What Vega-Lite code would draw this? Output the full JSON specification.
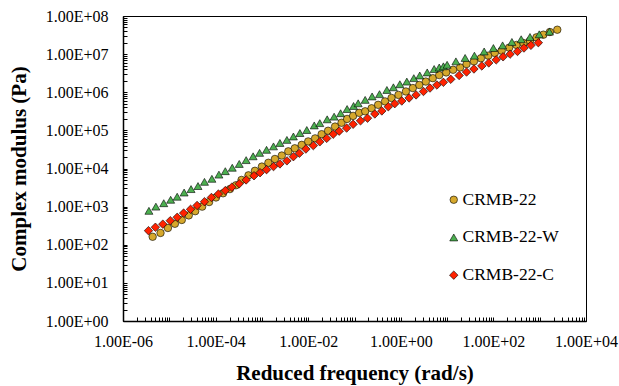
{
  "$schema": "https://vega.github.io/schema/vega-lite/v6.json",
  "autosize": {"type": "none"},
  "padding": {"left": 123, "top": 16, "right": 33, "bottom": 65},
  "width": 463,
  "height": 305,
  "background": "white",
  "config": {
    "font": "Liberation Serif",
    "view": {"stroke": "black", "strokeWidth": 1},
    "axis": {
      "labelFont": "Liberation Serif",
      "titleFont": "Liberation Serif",
      "labelColor": "black",
      "titleColor": "black",
      "domainColor": "black",
      "domainWidth": 1.5,
      "tickColor": "black",
      "tickWidth": 1,
      "tickSize": -4,
      "grid": false,
      "labelFontSize": 16,
      "titleFontSize": 21,
      "titleFontWeight": "bold",
      "labelOverlap": false,
      "labelFlush": false
    }
  },
  "data": {
    "values": [
      {"s": "CRMB-22", "f": 4.37e-6, "g": 162},
      {"s": "CRMB-22", "f": 6.46e-6, "g": 204},
      {"s": "CRMB-22", "f": 9.33e-6, "g": 275},
      {"s": "CRMB-22", "f": 1.32e-5, "g": 355},
      {"s": "CRMB-22", "f": 1.86e-5, "g": 447},
      {"s": "CRMB-22", "f": 2.63e-5, "g": 589},
      {"s": "CRMB-22", "f": 3.63e-5, "g": 759},
      {"s": "CRMB-22", "f": 5.13e-5, "g": 1000},
      {"s": "CRMB-22", "f": 7.24e-5, "g": 1318},
      {"s": "CRMB-22", "f": 1.02e-4, "g": 1738},
      {"s": "CRMB-22", "f": 1.45e-4, "g": 2239},
      {"s": "CRMB-22", "f": 2.04e-4, "g": 2884},
      {"s": "CRMB-22", "f": 2.75e-4, "g": 3631},
      {"s": "CRMB-22", "f": 3.63e-4, "g": 5012},
      {"s": "CRMB-22", "f": 5.13e-4, "g": 6607},
      {"s": "CRMB-22", "f": 7.08e-4, "g": 8710},
      {"s": "CRMB-22", "f": 1.0e-3, "g": 11220},
      {"s": "CRMB-22", "f": 1.38e-3, "g": 14130},
      {"s": "CRMB-22", "f": 1.91e-3, "g": 17780},
      {"s": "CRMB-22", "f": 2.69e-3, "g": 21880},
      {"s": "CRMB-22", "f": 3.72e-3, "g": 28180},
      {"s": "CRMB-22", "f": 5.13e-3, "g": 33880},
      {"s": "CRMB-22", "f": 7.24e-3, "g": 41690},
      {"s": "CRMB-22", "f": 1.0e-2, "g": 51290},
      {"s": "CRMB-22", "f": 1.41e-2, "g": 61660},
      {"s": "CRMB-22", "f": 1.95e-2, "g": 79430},
      {"s": "CRMB-22", "f": 2.69e-2, "g": 97720},
      {"s": "CRMB-22", "f": 3.8e-2, "g": 125900},
      {"s": "CRMB-22", "f": 5.25e-2, "g": 158500},
      {"s": "CRMB-22", "f": 6.92e-2, "g": 199500},
      {"s": "CRMB-22", "f": 9.33e-2, "g": 239900},
      {"s": "CRMB-22", "f": 0.126, "g": 288400},
      {"s": "CRMB-22", "f": 0.17, "g": 316200},
      {"s": "CRMB-22", "f": 0.234, "g": 380200},
      {"s": "CRMB-22", "f": 0.324, "g": 467700},
      {"s": "CRMB-22", "f": 0.457, "g": 575400},
      {"s": "CRMB-22", "f": 0.631, "g": 707900},
      {"s": "CRMB-22", "f": 0.891, "g": 851100},
      {"s": "CRMB-22", "f": 1.29, "g": 1047000},
      {"s": "CRMB-22", "f": 1.82, "g": 1288000},
      {"s": "CRMB-22", "f": 2.51, "g": 1549000},
      {"s": "CRMB-22", "f": 3.47, "g": 1905000},
      {"s": "CRMB-22", "f": 4.9, "g": 2344000},
      {"s": "CRMB-22", "f": 6.76, "g": 2818000},
      {"s": "CRMB-22", "f": 9.55, "g": 3311000},
      {"s": "CRMB-22", "f": 13.5, "g": 3890000},
      {"s": "CRMB-22", "f": 19.1, "g": 4467000},
      {"s": "CRMB-22", "f": 26.3, "g": 5495000},
      {"s": "CRMB-22", "f": 38, "g": 6457000},
      {"s": "CRMB-22", "f": 53.7, "g": 7762000},
      {"s": "CRMB-22", "f": 77.6, "g": 9120000},
      {"s": "CRMB-22", "f": 107, "g": 10720000},
      {"s": "CRMB-22", "f": 151, "g": 12300000},
      {"s": "CRMB-22", "f": 219, "g": 14790000},
      {"s": "CRMB-22", "f": 316, "g": 17380000},
      {"s": "CRMB-22", "f": 447, "g": 19500000},
      {"s": "CRMB-22", "f": 617, "g": 22390000},
      {"s": "CRMB-22", "f": 851, "g": 27540000},
      {"s": "CRMB-22", "f": 1202, "g": 32360000},
      {"s": "CRMB-22", "f": 1660, "g": 38020000},
      {"s": "CRMB-22", "f": 2399, "g": 43650000},

      {"s": "CRMB-22-W", "f": 3.63e-6, "g": 776},
      {"s": "CRMB-22-W", "f": 5.13e-6, "g": 1000},
      {"s": "CRMB-22-W", "f": 7.59e-6, "g": 1230},
      {"s": "CRMB-22-W", "f": 1.07e-5, "g": 1514},
      {"s": "CRMB-22-W", "f": 1.48e-5, "g": 1820},
      {"s": "CRMB-22-W", "f": 2.09e-5, "g": 2344},
      {"s": "CRMB-22-W", "f": 2.95e-5, "g": 2884},
      {"s": "CRMB-22-W", "f": 4.17e-5, "g": 3467},
      {"s": "CRMB-22-W", "f": 5.75e-5, "g": 4467},
      {"s": "CRMB-22-W", "f": 8.32e-5, "g": 5370},
      {"s": "CRMB-22-W", "f": 1.18e-4, "g": 6918},
      {"s": "CRMB-22-W", "f": 1.62e-4, "g": 8511},
      {"s": "CRMB-22-W", "f": 2.29e-4, "g": 10470},
      {"s": "CRMB-22-W", "f": 3.24e-4, "g": 13180},
      {"s": "CRMB-22-W", "f": 4.57e-4, "g": 16600},
      {"s": "CRMB-22-W", "f": 6.46e-4, "g": 20890},
      {"s": "CRMB-22-W", "f": 8.91e-4, "g": 25700},
      {"s": "CRMB-22-W", "f": 1.26e-3, "g": 30900},
      {"s": "CRMB-22-W", "f": 1.78e-3, "g": 38020},
      {"s": "CRMB-22-W", "f": 2.45e-3, "g": 46770},
      {"s": "CRMB-22-W", "f": 3.47e-3, "g": 56230},
      {"s": "CRMB-22-W", "f": 4.79e-3, "g": 69180},
      {"s": "CRMB-22-W", "f": 6.61e-3, "g": 85110},
      {"s": "CRMB-22-W", "f": 9.33e-3, "g": 102300},
      {"s": "CRMB-22-W", "f": 1.35e-2, "g": 134900},
      {"s": "CRMB-22-W", "f": 1.78e-2, "g": 154900},
      {"s": "CRMB-22-W", "f": 2.57e-2, "g": 195000},
      {"s": "CRMB-22-W", "f": 3.63e-2, "g": 229100},
      {"s": "CRMB-22-W", "f": 5.01e-2, "g": 281800},
      {"s": "CRMB-22-W", "f": 6.92e-2, "g": 363100},
      {"s": "CRMB-22-W", "f": 9.55e-2, "g": 436500},
      {"s": "CRMB-22-W", "f": 0.12, "g": 512900},
      {"s": "CRMB-22-W", "f": 0.17, "g": 631000},
      {"s": "CRMB-22-W", "f": 0.24, "g": 776200},
      {"s": "CRMB-22-W", "f": 0.347, "g": 891300},
      {"s": "CRMB-22-W", "f": 0.501, "g": 1148000},
      {"s": "CRMB-22-W", "f": 0.692, "g": 1349000},
      {"s": "CRMB-22-W", "f": 0.955, "g": 1622000},
      {"s": "CRMB-22-W", "f": 1.35, "g": 1905000},
      {"s": "CRMB-22-W", "f": 1.91, "g": 2344000},
      {"s": "CRMB-22-W", "f": 2.57, "g": 2754000},
      {"s": "CRMB-22-W", "f": 3.72, "g": 3311000},
      {"s": "CRMB-22-W", "f": 5.25, "g": 4074000},
      {"s": "CRMB-22-W", "f": 6.76, "g": 4467000},
      {"s": "CRMB-22-W", "f": 8.32, "g": 4786000},
      {"s": "CRMB-22-W", "f": 10, "g": 5248000},
      {"s": "CRMB-22-W", "f": 15.5, "g": 6457000},
      {"s": "CRMB-22-W", "f": 24.5, "g": 7943000},
      {"s": "CRMB-22-W", "f": 38.9, "g": 9120000},
      {"s": "CRMB-22-W", "f": 63.1, "g": 11750000},
      {"s": "CRMB-22-W", "f": 100, "g": 14450000},
      {"s": "CRMB-22-W", "f": 158, "g": 16980000},
      {"s": "CRMB-22-W", "f": 251, "g": 20890000},
      {"s": "CRMB-22-W", "f": 398, "g": 24550000},
      {"s": "CRMB-22-W", "f": 617, "g": 28180000},
      {"s": "CRMB-22-W", "f": 977, "g": 33110000},
      {"s": "CRMB-22-W", "f": 1622, "g": 38900000},

      {"s": "CRMB-22-C", "f": 3.55e-6, "g": 234},
      {"s": "CRMB-22-C", "f": 5.01e-6, "g": 288},
      {"s": "CRMB-22-C", "f": 7.24e-6, "g": 347},
      {"s": "CRMB-22-C", "f": 1.05e-5, "g": 427},
      {"s": "CRMB-22-C", "f": 1.48e-5, "g": 525},
      {"s": "CRMB-22-C", "f": 2.04e-5, "g": 676},
      {"s": "CRMB-22-C", "f": 2.88e-5, "g": 851},
      {"s": "CRMB-22-C", "f": 3.98e-5, "g": 1072},
      {"s": "CRMB-22-C", "f": 5.75e-5, "g": 1349},
      {"s": "CRMB-22-C", "f": 8.13e-5, "g": 1738},
      {"s": "CRMB-22-C", "f": 1.15e-4, "g": 2138},
      {"s": "CRMB-22-C", "f": 1.62e-4, "g": 2630},
      {"s": "CRMB-22-C", "f": 2.24e-4, "g": 3236},
      {"s": "CRMB-22-C", "f": 3.24e-4, "g": 3981},
      {"s": "CRMB-22-C", "f": 4.57e-4, "g": 5012},
      {"s": "CRMB-22-C", "f": 6.76e-4, "g": 6457},
      {"s": "CRMB-22-C", "f": 9.12e-4, "g": 7762},
      {"s": "CRMB-22-C", "f": 1.26e-3, "g": 9333},
      {"s": "CRMB-22-C", "f": 1.78e-3, "g": 11220},
      {"s": "CRMB-22-C", "f": 2.45e-3, "g": 13180},
      {"s": "CRMB-22-C", "f": 3.47e-3, "g": 15850},
      {"s": "CRMB-22-C", "f": 4.79e-3, "g": 20420},
      {"s": "CRMB-22-C", "f": 6.46e-3, "g": 25120},
      {"s": "CRMB-22-C", "f": 8.91e-3, "g": 32360},
      {"s": "CRMB-22-C", "f": 1.29e-2, "g": 39810},
      {"s": "CRMB-22-C", "f": 1.78e-2, "g": 50120},
      {"s": "CRMB-22-C", "f": 2.51e-2, "g": 61660},
      {"s": "CRMB-22-C", "f": 3.47e-2, "g": 79430},
      {"s": "CRMB-22-C", "f": 4.68e-2, "g": 95500},
      {"s": "CRMB-22-C", "f": 6.76e-2, "g": 114800},
      {"s": "CRMB-22-C", "f": 9.33e-2, "g": 144500},
      {"s": "CRMB-22-C", "f": 0.135, "g": 177800},
      {"s": "CRMB-22-C", "f": 0.191, "g": 208900},
      {"s": "CRMB-22-C", "f": 0.275, "g": 269200},
      {"s": "CRMB-22-C", "f": 0.389, "g": 323600},
      {"s": "CRMB-22-C", "f": 0.537, "g": 416900},
      {"s": "CRMB-22-C", "f": 0.741, "g": 501200},
      {"s": "CRMB-22-C", "f": 1.05, "g": 588800},
      {"s": "CRMB-22-C", "f": 1.51, "g": 707900},
      {"s": "CRMB-22-C", "f": 2.14, "g": 851100},
      {"s": "CRMB-22-C", "f": 3.09, "g": 1047000},
      {"s": "CRMB-22-C", "f": 4.27, "g": 1288000},
      {"s": "CRMB-22-C", "f": 6.03, "g": 1549000},
      {"s": "CRMB-22-C", "f": 8.32, "g": 1820000},
      {"s": "CRMB-22-C", "f": 12.0, "g": 2188000},
      {"s": "CRMB-22-C", "f": 18.2, "g": 2754000},
      {"s": "CRMB-22-C", "f": 26.3, "g": 3388000},
      {"s": "CRMB-22-C", "f": 38.0, "g": 4074000},
      {"s": "CRMB-22-C", "f": 56.2, "g": 4898000},
      {"s": "CRMB-22-C", "f": 79.4, "g": 5888000},
      {"s": "CRMB-22-C", "f": 115, "g": 7079000},
      {"s": "CRMB-22-C", "f": 162, "g": 8511000},
      {"s": "CRMB-22-C", "f": 229, "g": 10000000},
      {"s": "CRMB-22-C", "f": 331, "g": 11750000},
      {"s": "CRMB-22-C", "f": 457, "g": 14450000},
      {"s": "CRMB-22-C", "f": 646, "g": 16980000},
      {"s": "CRMB-22-C", "f": 933, "g": 19950000}
    ]
  },
  "mark": {"type": "point", "filled": true, "stroke": "black", "strokeWidth": 0.6, "opacity": 1},
  "encoding": {
    "x": {
      "field": "f",
      "type": "quantitative",
      "scale": {"type": "log", "domain": [0.000001, 10000], "nice": false},
      "axis": {
        "title": "Reduced frequency (rad/s)",
        "labelPadding": 16,
        "titlePadding": 13,
        "values": [0.000001,0.000002,0.000003,0.000004,0.000005,0.000006,0.000007,0.000008,0.000009,
                   0.00001,0.00002,0.00003,0.00004,0.00005,0.00006,0.00007,0.00008,0.00009,
                   0.0001,0.0002,0.0003,0.0004,0.0005,0.0006,0.0007,0.0008,0.0009,
                   0.001,0.002,0.003,0.004,0.005,0.006,0.007,0.008,0.009,
                   0.01,0.02,0.03,0.04,0.05,0.06,0.07,0.08,0.09,
                   0.1,0.2,0.3,0.4,0.5,0.6,0.7,0.8,0.9,
                   1,2,3,4,5,6,7,8,9,
                   10,20,30,40,50,60,70,80,90,
                   100,200,300,400,500,600,700,800,900,
                   1000,2000,3000,4000,5000,6000,7000,8000,9000,10000],
        "labelExpr": "(abs(log(datum.value)/LN10 - round(log(datum.value)/LN10)) > 0.001 || round(log(datum.value)/LN10) % 2 != 0) ? '' : '1.00E' + (round(log(datum.value)/LN10) < 0 ? '-' : '+') + (abs(round(log(datum.value)/LN10)) < 10 ? '0' : '') + abs(round(log(datum.value)/LN10))"
      }
    },
    "y": {
      "field": "g",
      "type": "quantitative",
      "scale": {"type": "log", "domain": [1, 100000000], "nice": false},
      "axis": {
        "title": "Complex modulus (Pa)",
        "labelPadding": 19,
        "titlePadding": 16,
        "values": [1,2,3,4,5,6,7,8,9,
                   10,20,30,40,50,60,70,80,90,
                   100,200,300,400,500,600,700,800,900,
                   1000,2000,3000,4000,5000,6000,7000,8000,9000,
                   10000,20000,30000,40000,50000,60000,70000,80000,90000,
                   100000,200000,300000,400000,500000,600000,700000,800000,900000,
                   1000000,2000000,3000000,4000000,5000000,6000000,7000000,8000000,9000000,
                   10000000,20000000,30000000,40000000,50000000,60000000,70000000,80000000,90000000,100000000],
        "labelExpr": "abs(log(datum.value)/LN10 - round(log(datum.value)/LN10)) > 0.001 ? '' : '1.00E' + (round(log(datum.value)/LN10) < 0 ? '-' : '+') + (abs(round(log(datum.value)/LN10)) < 10 ? '0' : '') + abs(round(log(datum.value)/LN10))"
      }
    },
    "color": {
      "field": "s",
      "type": "nominal",
      "scale": {"domain": ["CRMB-22", "CRMB-22-W", "CRMB-22-C"], "range": ["#D6A82C", "#4CAF50", "#FF2200"]},
      "legend": {
        "title": null,
        "orient": "none",
        "legendX": 322,
        "legendY": 175,
        "padding": 0,
        "labelFont": "Liberation Serif",
        "labelFontSize": 17.5,
        "labelColor": "black",
        "symbolSize": 28,
        "symbolStrokeColor": "black",
        "symbolStrokeWidth": 0.6,
        "rowPadding": 18.7,
        "labelOffset": 0,
        "encode": {"symbols": {"update": {"size": {"value": 28}}}}
      }
    },
    "shape": {
      "field": "s",
      "type": "nominal",
      "scale": {"domain": ["CRMB-22", "CRMB-22-W", "CRMB-22-C"], "range": ["circle", "triangle-up", "diamond"]}
    },
    "size": {
      "field": "s",
      "type": "nominal",
      "scale": {"domain": ["CRMB-22", "CRMB-22-W", "CRMB-22-C"], "range": [56, 72, 45]},
      "legend": null
    }
  }
}
